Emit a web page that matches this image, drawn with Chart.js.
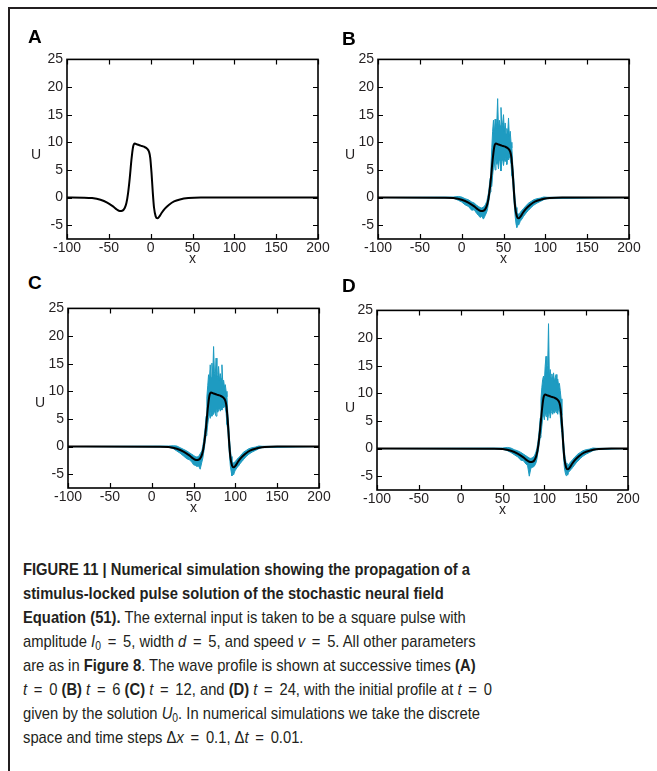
<!DOCTYPE html>
<html>
<head>
<meta charset="utf-8">
<script src="https://cdn.jsdelivr.net/npm/chart.js@4.4.1/dist/chart.umd.min.js"></script>
<style>
  body { margin: 0; background: #fff; }
  #page { position: relative; width: 657px; height: 771px; overflow: hidden; background: #fff; }
  #frame { position: absolute; left: 8px; top: 7px; width: 649px; height: 770px;
           border-top: 2px solid #231f20; border-left: 2px solid #231f20; }
  .panel { position: absolute; }
  .letter { position: absolute; font: bold 19px "Liberation Sans", Arial, Helvetica, sans-serif; color: #000; }
  .ulab { position: absolute; font: 14px "Liberation Sans", Arial, Helvetica, sans-serif; color: #231f20; }
  #caption { position: absolute; left: 23px; top: 558px; font-family: "Liberation Sans", Arial, Helvetica, sans-serif;
             font-size: 17px; line-height: 24px; color: #231f20; white-space: nowrap; transform-origin: 0 0; }
  #caption i { font-style: italic; }
  .eq { margin: 0 3px; }
  sub { font-size: 70%; vertical-align: -3px; line-height: 0; }
</style>
</head>
<body>
<div id="page">
  <div id="frame"></div>

  <canvas id="chartA" class="panel" width="310" height="222" style="left:22px; top:47px"></canvas>
  <canvas id="chartB" class="panel" width="310" height="222" style="left:333px; top:47px"></canvas>
  <canvas id="chartC" class="panel" width="310" height="222" style="left:23px; top:296px"></canvas>
  <canvas id="chartD" class="panel" width="310" height="222" style="left:332px; top:298px"></canvas>

  <div class="letter" style="left:28px; top:26px">A</div>
  <div class="letter" style="left:342px; top:28px">B</div>
  <div class="letter" style="left:28px; top:272px">C</div>
  <div class="letter" style="left:342px; top:275px">D</div>

  <div class="ulab" style="left:31px; top:146px">U</div>
  <div class="ulab" style="left:345px; top:146px">U</div>
  <div class="ulab" style="left:35px; top:394px">U</div>
  <div class="ulab" style="left:345px; top:399px">U</div>

  <div id="caption">
    <div><b id="capFirst">FIGURE 11 | Numerical simulation showing the propagation of a</b></div>
    <div><b>stimulus-locked pulse solution of the stochastic neural field</b></div>
    <div><b>Equation (51).</b> The external input is taken to be a square pulse with</div>
    <div>amplitude <i>I</i><sub>0</sub> <span class="eq">=</span> 5, width <i>d</i> <span class="eq">=</span> 5, and speed <i>v</i> <span class="eq">=</span> 5. All other parameters</div>
    <div>are as in <b>Figure 8</b>. The wave profile is shown at successive times <b>(A)</b></div>
    <div><i>t</i> <span class="eq">=</span> 0 <b>(B)</b> <i>t</i> <span class="eq">=</span> 6 <b>(C)</b> <i>t</i> <span class="eq">=</span> 12, and <b>(D)</b> <i>t</i> <span class="eq">=</span> 24, with the initial profile at <i>t</i> <span class="eq">=</span> 0</div>
    <div>given by the solution <i>U</i><sub>0</sub>. In numerical simulations we take the discrete</div>
    <div>space and time steps Δ<i>x</i> <span class="eq">=</span> 0.1, Δ<i>t</i> <span class="eq">=</span> 0.01.</div>
  </div>
</div>

<script>
// axis ticks
const xTicks = [-100, -50, 0, 50, 100, 150, 200];
const yTicks = [-5, 0, 5, 10, 15, 20, 25];

// deterministic pulse profile U (same shape in every panel)
const pulseU = [0, -0.02, -0.1, -0.4, -0.9, -1.6, -2.2, -2.45, -2.4, -1.9, -1.0, 0.8, 3.5, 6.8, 9.2, 9.8,
                9.6, 9.4, 9.2, 8.8, 8.3, 7.2, 4.5, 1.0, -1.8, -3.4, -3.75, -3.5, -2.8, -2.0, -1.3, -0.7,
                -0.35, -0.1, 0, 0];
const pulseXA = [-100, -80, -70, -60, -52, -45, -40, -37, -34, -31, -29, -27, -25, -23, -21, -19,
                 -16, -12, -8, -4, -2, -0.5, 1, 2.5, 4, 6, 8, 10, 13, 17, 22, 28, 35, 45, 60, 200];
const pulseXB = [-100, -20, -10, 0, 8, 15, 20, 23, 26, 29, 31, 33, 35, 37, 39, 41,
                 44, 48, 52, 56, 58, 59.5, 61, 62.5, 64, 66, 68, 70, 73, 77, 82, 88, 95, 105, 120, 200];
const pulseXC = [-100, 10, 20, 30, 38, 45, 50, 53, 56, 59, 61, 63, 65, 67, 69, 71,
                 74, 78, 82, 86, 88, 89.5, 91, 92.5, 94, 96, 98, 100, 103, 107, 112, 118, 125, 135, 150, 200];
const pulseXD = [-100, 40, 50, 60, 68, 75, 80, 83, 86, 89, 91, 93, 95, 97, 99, 101,
                 104, 108, 112, 116, 118, 119.5, 121, 122.5, 124, 126, 128, 130, 133, 137, 142, 148, 155, 165, 180, 200];

// stochastic simulation: upper and lower envelope of the noisy trace
const noiseXB = [-100, -10, -4, 0, 4, 8, 12, 15, 18, 20, 22, 24, 26, 28, 30, 31, 32, 33, 34, 35,
                 36, 37, 38, 39, 40, 41, 42, 43, 44, 45, 46, 47, 48, 49, 50, 51, 52, 53, 54, 55, 56, 57, 58, 59, 60,
                 61, 62, 63, 64, 65, 66, 67, 68, 69, 70, 72, 74, 76, 78, 80, 83, 86, 90, 94, 98, 102, 200];
const noiseHiB = [0, 0.1, 0.2, 0.1, -0.2, -0.4, -0.8, -1.0, -1.4, -1.6, -1.8, -1.9, -1.7, -1.4, -0.7, 0, 0.8, 2, 3.5, 5.5,
                  9, 12, 14, 11.5, 14.2, 12.5, 13.5, 17.9, 12.5, 14, 13, 16.3, 12.8, 13.5, 15, 12, 13.5, 11.5, 12.5, 11.5, 14.4, 11, 12, 10, 9,
                  6, 4, 1.5, -0.5, -1.8, -2.6, -2.9, -3, -2.9, -2.7, -2.3, -2, -1.6, -1.3, -1.0, -0.7, -0.4, -0.2, -0.1, 0.1, 0.05, 0];
const noiseLoB = [0, -0.1, -0.5, -0.8, -1.3, -1.6, -2.3, -2.2, -2.9, -3.2, -3.6, -3.4, -3.9, -3.3, -2.6, -2, -1.0, -0.2, 1, 2,
                  2, 4, 5.5, 6.5, 5, 7, 6, 6.5, 5.2, 7, 6.5, 4.8, 6.5, 7, 5.8, 7, 6.5, 7.2, 6, 7.5, 6.8, 7.5, 7, 6, 4,
                  3, 0.5, -1.5, -3.5, -4.8, -5.4, -4.6, -5, -4.7, -4.3, -3.9, -3.4, -3.0, -2.6, -2.3, -1.8, -1.4, -1.0, -0.7, -0.4, -0.2, 0];

const noiseXC = [-100, 20, 26, 30, 34, 38, 42, 45, 48, 50, 52, 54, 56, 58, 60, 61, 62, 63, 64, 65,
                 66, 67, 68, 69, 70, 71, 72, 73, 74, 75, 76, 77, 78, 79, 80, 81, 82, 83, 84, 85, 86, 87, 88, 89, 90,
                 91, 92, 93, 94, 95, 96, 97, 98, 99, 100, 102, 104, 106, 108, 110, 113, 116, 120, 124, 128, 132, 200];
const noiseHiC = [0, 0.1, 0.15, 0.1, -0.2, -0.5, -0.8, -1.1, -1.4, -1.6, -1.8, -1.9, -1.8, -1.3, -0.8, 0, 0.9, 2.2, 3.5, 5.5,
                  9, 11, 13, 12, 14.8, 12.5, 15.1, 13, 18.1, 13.5, 12.8, 16, 13, 12.5, 14.5, 12, 13.2, 12.3, 14.8, 11.5, 12, 10.8, 11.2, 10, 9,
                  6, 4, 1.5, -0.5, -1.8, -2.6, -2.9, -3, -2.8, -2.7, -2.3, -2, -1.7, -1.3, -1.0, -0.7, -0.4, -0.2, -0.1, 0.1, 0.05, 0];
const noiseLoC = [0, -0.1, -0.4, -0.8, -1.2, -1.7, -2.2, -2.4, -2.8, -3.3, -3.4, -3.6, -3.5, -4.1, -2.8, -2.2, -1.2, -0.3, 1, 2,
                  2.5, 4, 5.2, 6, 5.1, 6.5, 5.5, 6.2, 5.8, 6.5, 6, 5.5, 6.8, 6.2, 6.6, 7, 6.4, 7.2, 6.6, 7.5, 7, 7.4, 7, 6, 4,
                  3, 0.5, -1.5, -3.5, -4.5, -5.3, -4.8, -5.1, -4.6, -4.3, -3.8, -3.5, -3.0, -2.7, -2.3, -1.8, -1.4, -1.0, -0.7, -0.4, -0.2, 0];

const noiseXD = [-100, 50, 56, 60, 64, 68, 72, 75, 78, 80, 82, 84, 86, 88, 90, 91, 92, 93, 94, 95,
                 96, 97, 98, 99, 100, 101, 102, 103, 104, 105, 106, 107, 108, 109, 110, 111, 112, 113, 114, 115, 116, 117, 118, 119, 120,
                 121, 122, 123, 124, 125, 126, 127, 128, 129, 130, 132, 134, 136, 138, 140, 143, 146, 150, 154, 158, 162, 200];
const noiseHiD = [0, 0.1, 0.2, 0.1, -0.2, -0.4, -0.7, -1.0, -1.3, -1.5, -1.7, -1.8, -1.6, -1.4, -0.6, 0, 0.8, 2, 3.5, 5.5,
                  9, 11, 12.5, 13.1, 12, 14.9, 16.7, 13.5, 15, 22.6, 13, 14.3, 12.8, 13.5, 12.5, 13.7, 12.2, 12.8, 13.4, 12, 12.6, 11.5, 11.8, 10.5, 9,
                  6, 4, 1.5, -0.5, -1.8, -2.6, -2.9, -3, -2.9, -2.7, -2.3, -2, -1.6, -1.3, -1.0, -0.7, -0.4, -0.2, -0.1, 0.1, 0.05, 0];
const noiseLoD = [0, -0.1, -0.4, -0.7, -1.1, -1.5, -2.1, -2.2, -2.8, -3.1, -5, -3.5, -3.4, -3.2, -2.6, -2, -1.0, -0.2, 1, 2,
                  2.5, 4, 5.5, 6.2, 5.2, 6.8, 5.8, 6.5, 5.1, 6.2, 6.8, 5.5, 6.5, 7, 6.2, 6.8, 6.4, 7.2, 6.5, 7, 6.2, 7.2, 7, 6, 4,
                  3, 0.5, -1.5, -3.5, -4.4, -4.9, -4.5, -4.8, -4.3, -4.1, -3.8, -3.4, -3.0, -2.6, -2.3, -1.8, -1.4, -1.0, -0.7, -0.4, -0.2, 0];

const cyan = "#1e9bc1";
const pts = (xs, ys) => xs.map((x, i) => ({ x: x, y: ys[i] }));

// the caption is set in a condensed face in print: squeeze it to the same line length
const capFirst = document.querySelector("#capFirst");
document.querySelector("#caption").style.transform = "scaleX(" + (447 / capFirst.getBoundingClientRect().width) + ")";

// box around the plot with inward ticks on all four sides
const boxTicks = {
    id: "boxTicks",
    afterDatasetsDraw(chart) {
        const { ctx, chartArea: a, scales: { x, y } } = chart;
        ctx.save();
        ctx.strokeStyle = "#000";
        ctx.lineWidth = 1.2;
        ctx.beginPath();
        x.ticks.forEach((t) => {
            const px = Math.round(x.getPixelForValue(t.value)) + 0.5;
            ctx.moveTo(px, a.bottom); ctx.lineTo(px, a.bottom - 5);
            ctx.moveTo(px, a.top); ctx.lineTo(px, a.top + 5);
        });
        y.ticks.forEach((t) => {
            const py = Math.round(y.getPixelForValue(t.value)) + 0.5;
            ctx.moveTo(a.left, py); ctx.lineTo(a.left + 5, py);
            ctx.moveTo(a.right, py); ctx.lineTo(a.right - 5, py);
        });
        ctx.stroke();
        ctx.lineWidth = 1.6;
        ctx.strokeRect(a.left, a.top, a.right - a.left, a.bottom - a.top);
        ctx.restore();
    },
};

const tickFont = { family: "'Liberation Sans', Arial, Helvetica, sans-serif", size: 14 };

const makePanel = (id, pulseX, noise) => {
    const datasets = [
        {
            data: pts(pulseX, pulseU),
            borderColor: "#000",
            borderWidth: 2,
            cubicInterpolationMode: "monotone",
            order: 0,
        },
    ];
    if (noise) {
        datasets.push(
            { data: pts(noise.x, noise.hi), borderColor: cyan, backgroundColor: cyan, borderWidth: 1, fill: "+1", order: 1 },
            { data: pts(noise.x, noise.lo), borderColor: cyan, borderWidth: 1, fill: false, order: 2 }
        );
    }
    new Chart(document.querySelector(id), {
        type: "line",
        data: { datasets: datasets },
        options: {
            responsive: false,
            animation: false,
            events: [],
            layout: { padding: { top: 10, right: 14, left: 0, bottom: 0 } },
            elements: { point: { radius: 0 }, line: { tension: 0 } },
            plugins: { legend: { display: false }, tooltip: { enabled: false } },
            scales: {
                x: {
                    type: "linear",
                    min: -100,
                    max: 200,
                    grid: { display: false, drawTicks: false },
                    border: { display: false },
                    afterBuildTicks: (s) => { s.ticks = xTicks.map((v) => ({ value: v })); },
                    afterFit: (s) => { s.height = 30; },
                    ticks: { font: tickFont, color: "#231f20", padding: 1, maxRotation: 0 },
                    title: { display: true, text: "x", font: tickFont, color: "#231f20", padding: { top: 0, bottom: 1 } },
                },
                y: {
                    min: -7.5,
                    max: 25,
                    grid: { display: false, drawTicks: false },
                    border: { display: false },
                    afterBuildTicks: (s) => { s.ticks = yTicks.map((v) => ({ value: v })); },
                    afterFit: (s) => { s.width = 45; },
                    ticks: { font: tickFont, color: "#231f20", padding: 4 },
                },
            },
        },
        plugins: [boxTicks],
    });
};

makePanel("#chartA", pulseXA, null);
makePanel("#chartB", pulseXB, { x: noiseXB, hi: noiseHiB, lo: noiseLoB });
makePanel("#chartC", pulseXC, { x: noiseXC, hi: noiseHiC, lo: noiseLoC });
makePanel("#chartD", pulseXD, { x: noiseXD, hi: noiseHiD, lo: noiseLoD });
</script>
</body>
</html>
